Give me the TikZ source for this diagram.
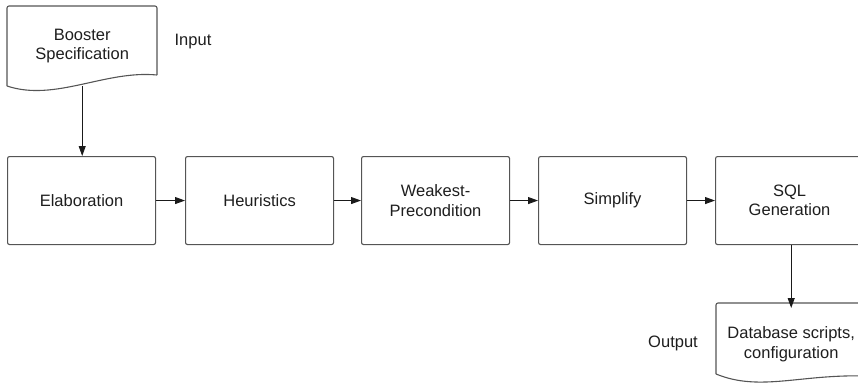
\documentclass[tikz,border=0pt]{standalone}
\usepackage{fontspec}
\setmainfont{Liberation Sans}
\usetikzlibrary{arrows.meta}
\definecolor{linec}{HTML}{555555}
\definecolor{arrowc}{HTML}{1A1A1A}
\definecolor{textc}{HTML}{1E1E1E}
\begin{document}
\begin{tikzpicture}[x=1pt,y=-1pt,
  every node/.style={font=\fontsize{16.5}{19.5}\selectfont, text=textc, align=center, inner sep=0pt},
  stagebox/.style={draw=linec, line width=1.1pt, rounded corners=2pt, minimum width=148pt, minimum height=88pt, anchor=north west},
  docshape/.style={draw=linec, line width=1.1pt, rounded corners=2pt},
  flow/.style={draw=arrowc, line width=0.9pt, -{Triangle[length=10pt,width=7pt]}},
  lbl/.style={font=\fontsize{16.5}{19.5}\selectfont}
]
\useasboundingbox (0,0) rectangle (858,388);
\clip (0,0) rectangle (858,388);
% input document
\draw[docshape] (7,86) -- (7,6) -- (157,6) -- (157,75);
\draw[line width=1.1pt, draw=linec] (157,75) .. controls (105,70) and (55,102) .. (7,86);
\node[minimum width=150pt, minimum height=80pt, anchor=north west] (booster) at (7,6) {Booster\\Specification};
\node[lbl] (input) at (193,42) {Input};
% stages
\node[stagebox] (elab) at (7,156) {Elaboration};
\node[stagebox] (heur) at (185,156) {Heuristics};
\node[stagebox] (wp) at (361,156) {Weakest-\\Precondition};
\node[stagebox] (simp) at (538,156) {Simplify};
\node[stagebox] (sql) at (715,156) {SQL\\Generation};
% output document
\draw[docshape] (716,374) -- (716,303) -- (866,303) -- (866,376);
\draw[line width=1.1pt, draw=linec] (716,374) .. controls (760,392) and (800,374) .. (866,376);
\node[minimum width=150pt, minimum height=72pt, anchor=north west] (out) at (716,308) {Database scripts,\\configuration};
\node[lbl] (outlbl) at (673,343) {Output};
% connectors
\draw[flow] (booster.south) -- (booster.south |- elab.north);
\draw[flow] (elab) -- (heur);
\draw[flow] (heur) -- (wp);
\draw[flow] (wp) -- (simp);
\draw[flow] (simp) -- (sql);
\draw[flow] (sql.south -| out.north) -- (out.north);
\end{tikzpicture}
\end{document}
